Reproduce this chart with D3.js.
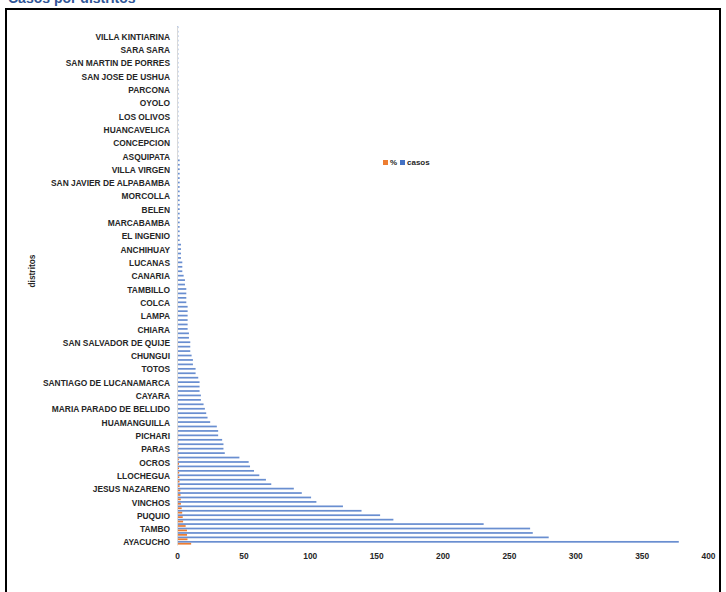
<!DOCTYPE html>
<html><head><meta charset="utf-8">
<script src="https://cdn.jsdelivr.net/npm/d3@7/dist/d3.min.js"></script>
<style>body{margin:0;background:#fff}svg{display:block}</style>
</head><body>
<script>
// categories ordered from bottom (rank 1) to top
const distritos = ["AYACUCHO","SAN JUAN BAUTISTA","CARMEN ALTO","TAMBO","HUANTA","SAN MIGUEL","PUQUIO","AYNA","SANTA ROSA","VINCHOS",
"QUINUA","ANDRES AVELINO CACERES","JESUS NAZARENO","KIMBIRI","SIVIA","LLOCHEGUA","CORACORA","ACOCRO","OCROS","SOCOS",
"CANGALLO","PARAS","HUANCAPI","LURICOCHA","PICHARI","CHILCAS","ACOS VINCHOS","HUAMANGUILLA","SANTILLANA","PACAYCASA",
"MARIA PARADO DE BELLIDO","ANCO","CHUSCHI","CAYARA","QUEROBAMBA","SAN JOSE DE TICLLAS","SANTIAGO DE LUCANAMARCA","HUANCARAYLLA","SANTIAGO DE PISCHA","TOTOS",
"VISCHONGO","ACCOMARCA","CHUNGUI","HUAMBALPA","VILCAS HUAMAN","SAN SALVADOR DE QUIJE","SAISA","PAMPA CANGALLO","CHIARA","LEONCIO PRADO",
"CHIPAO","LAMPA","PULLO","SANCOS","COLCA","CABANA","AUCARA","TAMBILLO","OCAÑA","LARAMATE",
"CANARIA","HUAYA","APONGO","LUCANAS","SAURAMA","SAN PEDRO","ANCHIHUAY","CARAPO","SARHUA","EL INGENIO",
"LLAUTA","OTOCA","MARCABAMBA","SACSAMARCA","HUACAÑA","BELEN","CHALCOS","CHAVIÑA","MORCOLLA","SORAS",
"PAICO","SAN JAVIER DE ALPABAMBA","SANTA LUCIA","SAN CRISTOBAL","VILLA VIRGEN","PUYUSCA","PACAPAUSA","ASQUIPATA","SAN FRANCISCO DE RAVACAYCO","UPAHUACHO",
"CONCEPCION","CORONEL CASTAÑEDA","CHUMPI","HUANCAVELICA","LIMA","ICA","LOS OLIVOS","HUANCAYO","ALCAMENCA","OYOLO",
"HUAMANQUIQUIA","SAN JUAN DE LURIGANCHO","PARCONA","ATE","CHILCAYOC","SAN JOSE DE USHUA","SAN PEDRO DE PALCO","SANTA ANA DE HUAYCAHUACHO","SAN MARTIN DE PORRES","COMAS",
"CARHUANCA","SARA SARA","PAUSA","MARCAS","VILLA KINTIARINA","HUACHOCOLPA","SAN MIGUEL DE CHACCRAMPA"];

const casos = [378,280,268,266,231,163,153,139,125,105,
101,94,88,71,67,62,58,55,54,47,
36,35,35,34,31,31,30,25,23,22,
21,20,18,18,17,17,17,16,14,14,
12,12,11,10,10,10,9,9,8,8,
8,8,8,8,7,7,7,7,6,6,
5,4,4,4,3,3,3,3,2,2,
2,2,2,2,2,2,2,2,2,2,
2,2,2,2,2,2,2,1,1,1,
1,1,1,1,1,1,1,1,1,1,
1,1,1,1,1,1,1,1,1,1,
1,1,1,1,1,1,1];

const porcentaje = [10.66,7.89,7.56,7.50,6.51,4.60,4.31,3.92,3.52,2.96,
2.85,2.65,2.48,2.00,1.89,1.75,1.64,1.55,1.52,1.33,
1.01,0.99,0.99,0.96,0.87,0.87,0.85,0.70,0.65,0.62,
0.59,0.56,0.51,0.51,0.48,0.48,0.48,0.45,0.39,0.39,
0.34,0.34,0.31,0.28,0.28,0.28,0.25,0.25,0.23,0.23,
0.23,0.23,0.23,0.23,0.20,0.20,0.20,0.20,0.17,0.17,
0.14,0.11,0.11,0.11,0.08,0.08,0.08,0.08,0.06,0.06,
0.06,0.06,0.06,0.06,0.06,0.06,0.06,0.06,0.06,0.06,
0.06,0.06,0.06,0.06,0.06,0.06,0.06,0.03,0.03,0.03,
0.03,0.03,0.03,0.03,0.03,0.03,0.03,0.03,0.03,0.03,
0.03,0.03,0.03,0.03,0.03,0.03,0.03,0.03,0.03,0.03,
0.03,0.03,0.03,0.03,0.03,0.03,0.03];

const xTicks = [0,50,100,150,200,250,300,350,400];
const seriesNames = ["%","casos"];
const seriesColors = ["#ed7d31","#4472c4"];

const W = 726, H = 592;
const svg = d3.select("body").append("svg").attr("width", W).attr("height", H);
const font = "'Liberation Sans', Arial, sans-serif";

// title above the frame (cropped in the reference)
svg.append("text").attr("x", 8).attr("y", 3).attr("font-family", font)
  .attr("font-size", 14).attr("font-weight", "bold").attr("fill", "#2f5597")
  .text("Casos por distritos");

svg.append("rect").attr("x", 6).attr("y", 9).attr("width", 714).attr("height", 600)
  .attr("fill", "#fff").attr("stroke", "#000").attr("stroke-width", 2);

const x = d3.scaleLinear().domain([0, 400]).range([177, 708]);
const y = d3.scaleBand().domain(distritos).range([545, 26]).paddingInner(0.18).paddingOuter(0.09);
const sub = d3.scaleBand().domain(["casos","%"]).range([0, y.bandwidth()]).paddingInner(0.1);

const rows = distritos.map((d, i) => ({d, casos: casos[i], pct: porcentaje[i]}));

const g = svg.append("g");
g.selectAll("rect.c").data(rows).join("rect").attr("class", "c")
  .attr("x", x(0)).attr("y", r => y(r.d) + sub("casos"))
  .attr("width", r => x(r.casos) - x(0)).attr("height", sub.bandwidth())
  .attr("fill", seriesColors[1]).attr("opacity", 0.8);
g.selectAll("rect.p").data(rows).join("rect").attr("class", "p")
  .attr("x", x(0)).attr("y", r => y(r.d) + sub("%"))
  .attr("width", r => x(r.pct) - x(0)).attr("height", sub.bandwidth())
  .attr("fill", seriesColors[0]);

// category axis
const shown = distritos.filter((d, i) => i % 3 === 0);
const yAxis = d3.axisLeft(y).tickValues(shown).tickSize(0).tickPadding(7);
const ya = svg.append("g").attr("transform", `translate(${x(0)},0)`).call(yAxis);
ya.select(".domain").attr("stroke", "#d9d9d9");
ya.selectAll("text").attr("font-family", font).attr("font-size", 8.4)
  .attr("font-weight", "bold").attr("fill", "#262626");

// value axis
const xAxis = d3.axisBottom(x).tickValues(xTicks).tickSize(0).tickPadding(6);
const xa = svg.append("g").attr("transform", "translate(0,547)").call(xAxis);
xa.select(".domain").remove();
xa.selectAll("text").attr("font-family", font).attr("font-size", 8.4)
  .attr("font-weight", "bold").attr("fill", "#262626");

// axis title
svg.append("text").attr("transform", "translate(35,271) rotate(-90)")
  .attr("text-anchor", "middle").attr("font-family", font).attr("font-size", 8.4)
  .attr("font-weight", "bold").attr("fill", "#262626").text("distritos");

// legend
const lg = svg.append("g").attr("transform", "translate(383,163)");
const lx = [0, 17];
seriesNames.forEach((s, i) => {
  lg.append("rect").attr("x", lx[i]).attr("y", -3).attr("width", 5).attr("height", 5).attr("fill", seriesColors[i]);
  lg.append("text").attr("x", lx[i] + 7).attr("y", 2).attr("font-family", font).attr("font-size", 8)
    .attr("font-weight", "bold").attr("fill", "#262626").text(s);
});
</script>
</body></html>
